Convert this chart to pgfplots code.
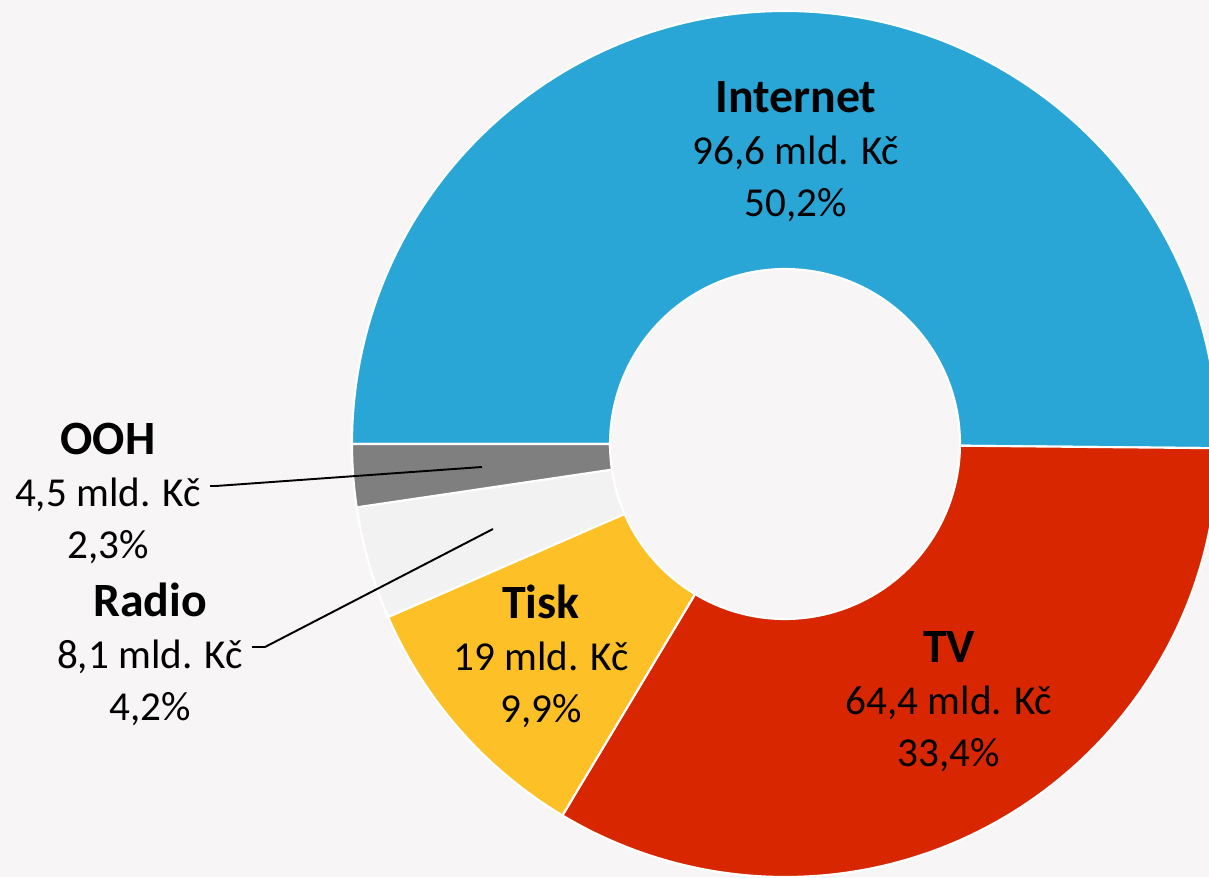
\documentclass[border=0pt]{standalone}
\usepackage{fontspec}
\setmainfont{Carlito}
\usepackage{pgfplots}
\usepackage{pgfplotstable}
\pgfplotsset{compat=1.18}
\usetikzlibrary{calc}
\definecolor{bgc}{RGB}{247,245,246}
\definecolor{col0}{RGB}{41,166,214}
\definecolor{col1}{RGB}{216,38,0}
\definecolor{col2}{RGB}{254,192,39}
\definecolor{col3}{RGB}{242,242,242}
\definecolor{col4}{RGB}{127,127,127}
\pgfplotstableread{
label value pct
Internet 96.6 50.2
TV 64.4 33.4
Tisk 19 9.9
Radio 8.1 4.2
OOH 4.5 2.3
}\donut
\newcommand\hd[1]{{\fontsize{13.6}{14.8}\selectfont\bfseries #1}}
\begin{document}
\begin{tikzpicture}
\def\total{0}
\pgfplotsforeachungrouped \i in {0,...,4}{%
  \pgfplotstablegetelem{\i}{value}\of\donut
  \pgfmathsetmacro\total{\total+\pgfplotsretval}%
}
\def\acc{180}
\pgfplotsforeachungrouped \i in {0,...,4}{%
  \pgfplotstablegetelem{\i}{value}\of\donut
  \pgfmathsetmacro\segspan{\pgfplotsretval/\total*360}%
  \expandafter\xdef\csname startA\i\endcsname{\acc}%
  \pgfmathsetmacro\acc{\acc-\segspan}%
  \expandafter\xdef\csname endA\i\endcsname{\acc}%
}
\begin{axis}[x=1cm,y=1cm,xmin=0,xmax=12.09,ymin=0,ymax=8.77,
  hide axis, scale only axis, clip=true]
\fill[bgc] (axis cs:0,0) rectangle (axis cs:12.09,8.77);
\coordinate (C) at (axis cs:7.85,4.33);
\pgfplotsinvokeforeach{0,...,4}{%
  \filldraw[fill=col#1, draw=white, line width=0.6pt, line join=round]
    ($(C)+(\csname startA#1\endcsname:4.33cm)$)
    arc[start angle=\csname startA#1\endcsname, end angle=\csname endA#1\endcsname, radius=4.33cm]
    -- ($(C)+(\csname endA#1\endcsname:1.75cm)$)
    arc[start angle=\csname endA#1\endcsname, end angle=\csname startA#1\endcsname, radius=1.75cm]
    -- cycle;
}
\draw[black, line width=0.55pt] (axis cs:2.10,3.91) -- (axis cs:2.16,3.91) -- (axis cs:4.82,4.10);
\draw[black, line width=0.55pt] (axis cs:2.52,2.30) -- (axis cs:2.65,2.30) -- (axis cs:4.93,3.48);
\tikzset{lbl/.style={align=center, inner sep=0pt, font=\fontsize{11.7}{14.8}\selectfont}}
\node[lbl] at (axis cs:7.96,7.25) {\hd{Internet}\\96,6 mld. Kč\\50,2\%};
\node[lbl] at (axis cs:9.49,1.75) {\hd{TV}\\64,4 mld. Kč\\33,4\%};
\node[lbl] at (axis cs:5.41,2.21) {\hd{Tisk}\\19 mld. Kč\\9,9\%};
\node[lbl] at (axis cs:1.08,3.84) {\hd{OOH}\\4,5 mld. Kč\\2,3\%};
\node[lbl] at (axis cs:1.50,2.23) {\hd{Radio}\\8,1 mld. Kč\\4,2\%};
\end{axis}
\end{tikzpicture}
\end{document}
